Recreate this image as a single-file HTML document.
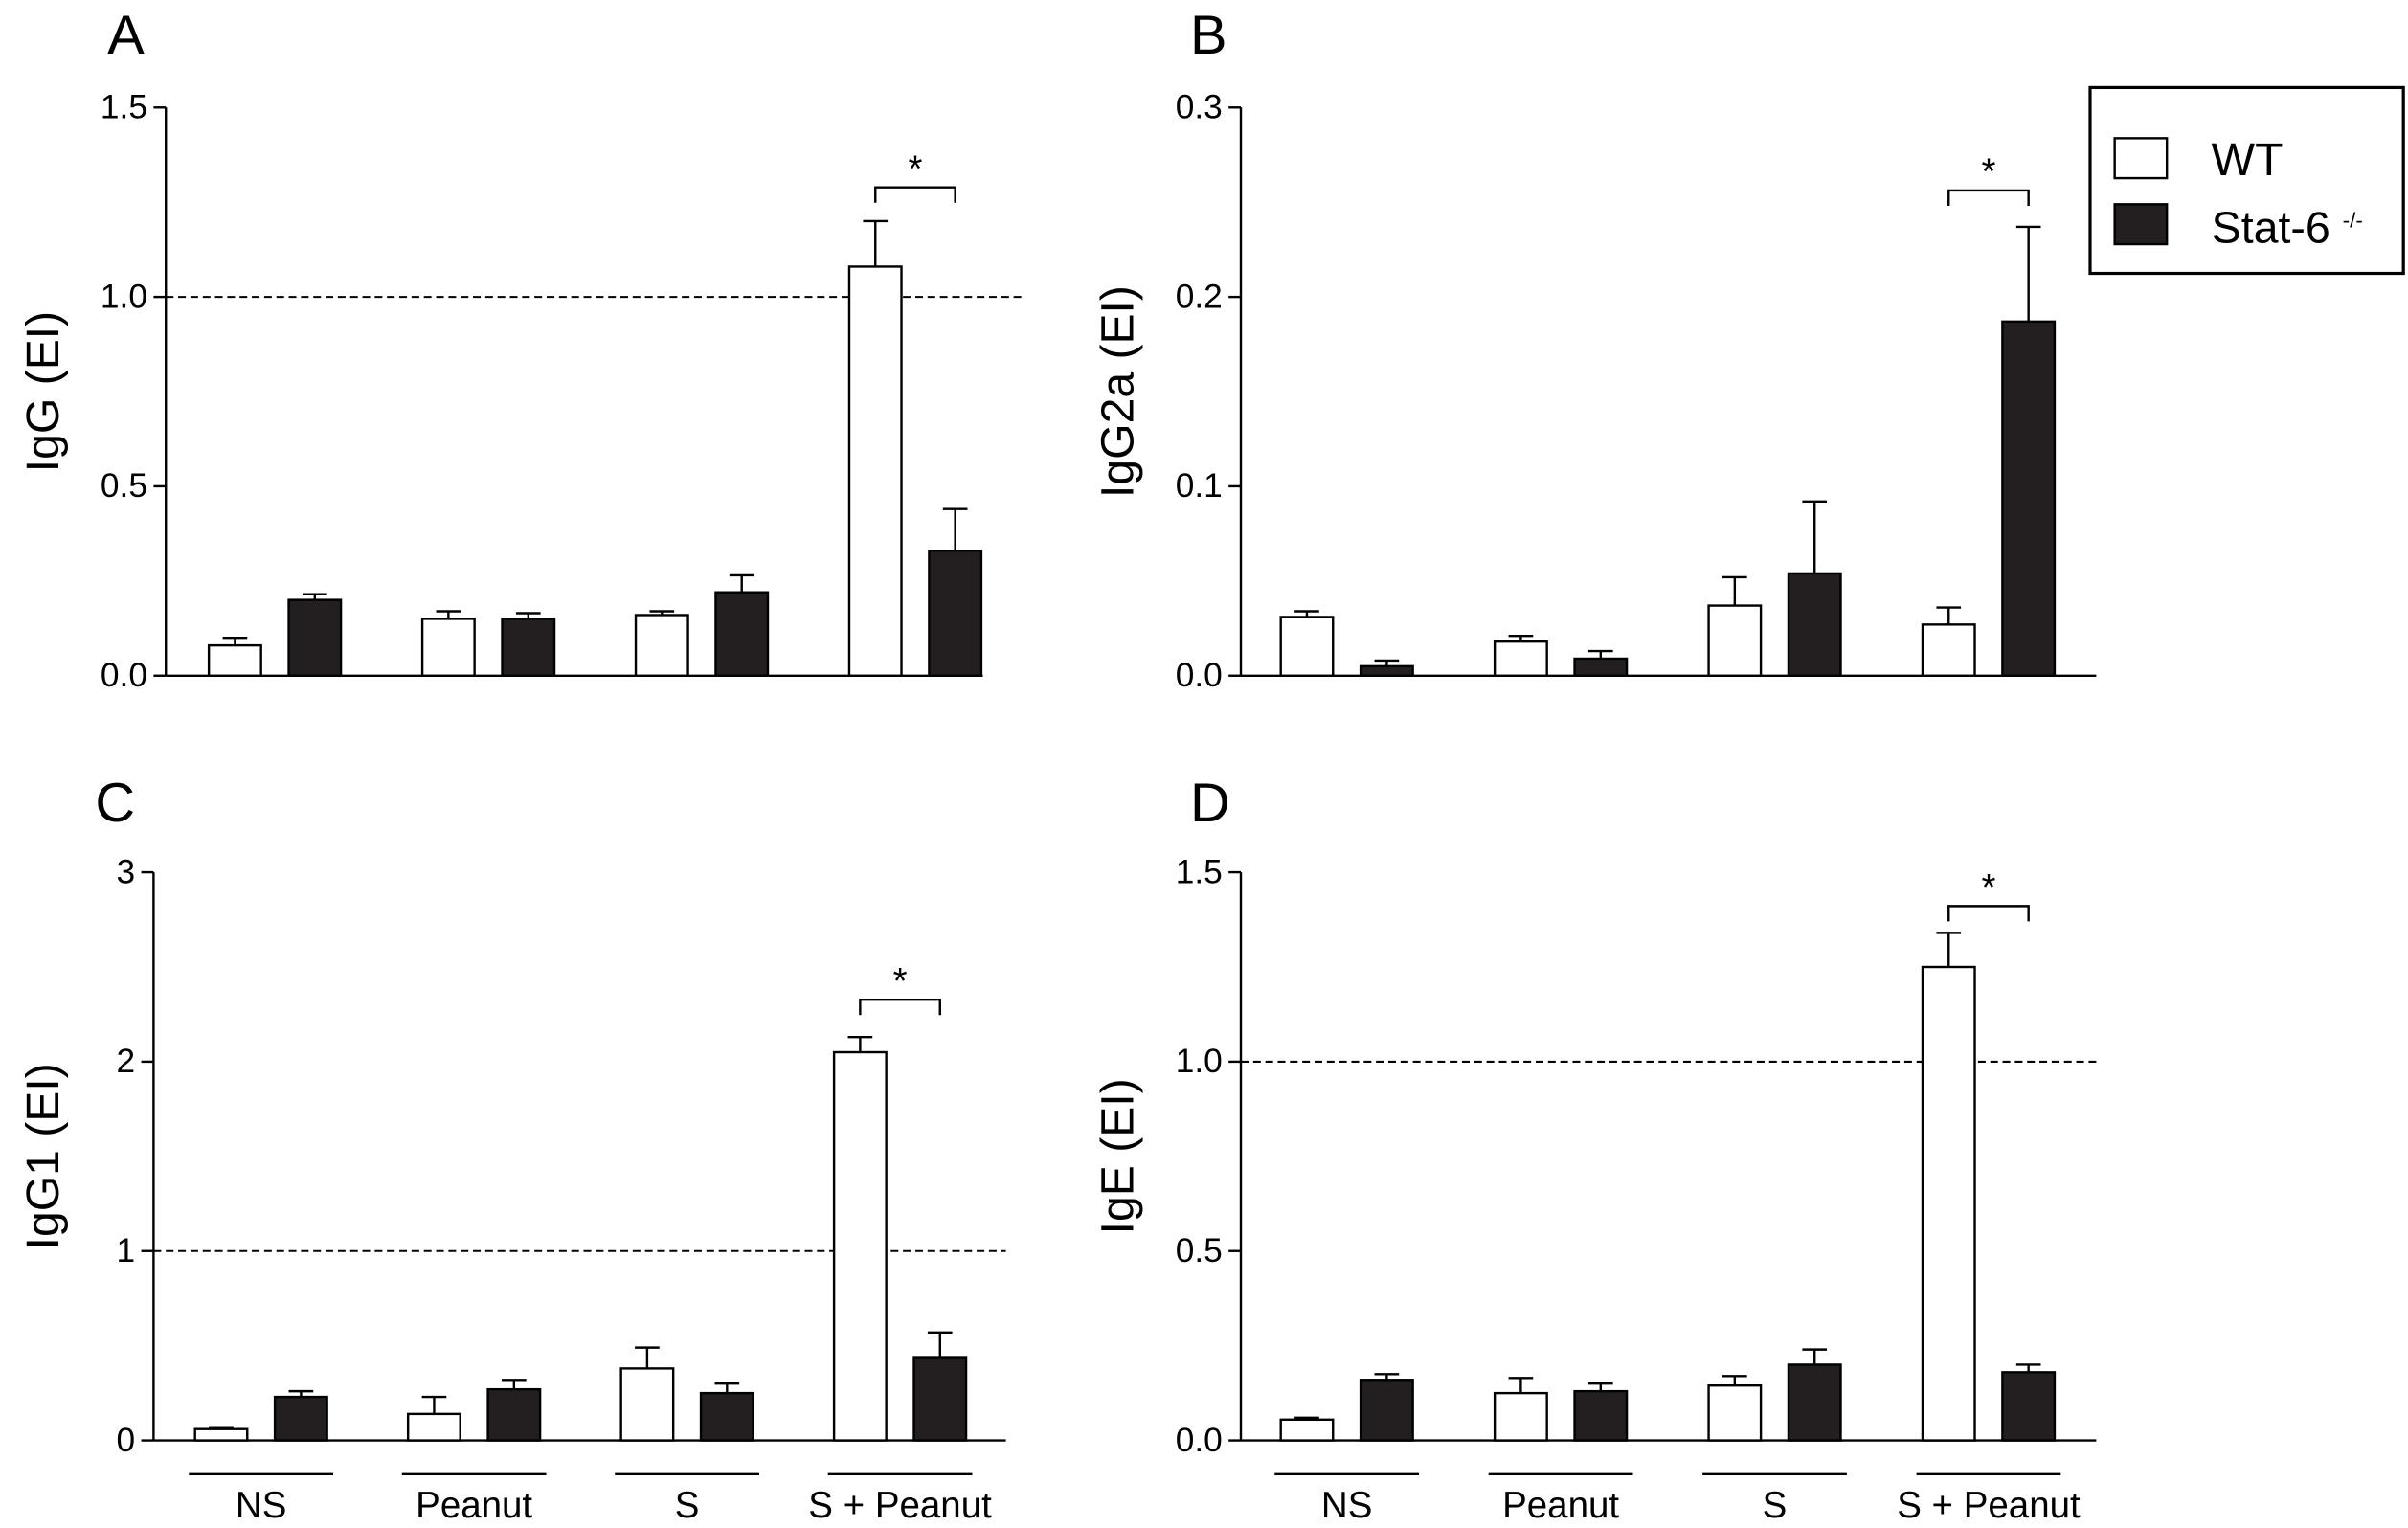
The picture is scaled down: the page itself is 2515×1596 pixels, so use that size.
<!DOCTYPE html>
<html><head><meta charset="utf-8"><style>
html,body{margin:0;padding:0;background:#fff;}
svg{display:block;font-family:"Liberation Sans",Arial,sans-serif;}
</style></head><body>
<svg id="fig" width="2515" height="1596" viewBox="0 0 1568 995" preserveAspectRatio="none" xmlns="http://www.w3.org/2000/svg"></svg>
<script>
const groups = ["NS","Peanut","S","S + Peanut"];
const aWT = [0.08,0.15,0.16,1.08], aWTe = [0.02,0.02,0.01,0.12];
const aKO = [0.20,0.15,0.22,0.33], aKOe = [0.015,0.015,0.045,0.11];
const bWT = [0.031,0.018,0.037,0.027], bWTe = [0.003,0.003,0.015,0.009];
const bKO = [0.005,0.009,0.054,0.187], bKOe = [0.003,0.004,0.038,0.05];
const cWT = [0.06,0.14,0.38,2.05], cWTe = [0.01,0.09,0.11,0.08];
const cKO = [0.23,0.27,0.25,0.44], cKOe = [0.03,0.05,0.05,0.13];
const dWT = [0.055,0.125,0.145,1.25], dWTe = [0.005,0.04,0.025,0.09];
const dKO = [0.16,0.13,0.20,0.18], dKOe = [0.015,0.02,0.04,0.02];
const aTicks = ["0.0","0.5","1.0","1.5"];
const bTicks = ["0.0","0.1","0.2","0.3"];
const cTicks = ["0","1","2","3"];
const dTicks = ["0.0","0.5","1.0","1.5"];

const svg = document.getElementById('fig');
const NS = "http://www.w3.org/2000/svg";
function mk(tag, attrs, parent){
  const e = document.createElementNS(NS, tag);
  for (const k in attrs) e.setAttribute(k, attrs[k]);
  (parent||svg).appendChild(e);
  return e;
}
function panel(cfg){
  const g = mk('g', {});
  
  
  const y = v => cfg.y0 - (v / cfg.max) * (cfg.y0 - cfg.yTop);
  const ax = cfg.ax;
  const yaxis = mk('line', {x1:ax,y1:cfg.yTop,x2:ax,y2:cfg.y0,stroke:'#000','stroke-width':1.5}, g);
  
  
  const xaxis = mk('line', {x1:ax,y1:cfg.y0,x2:cfg.xEnd,y2:cfg.y0,stroke:'#000','stroke-width':1.5}, g);
  
  
  cfg.ticks.forEach(t => {
    const v = parseFloat(t), yy = y(v);
    mk('line', {x1:ax-8,y1:yy,x2:ax,y2:yy,stroke:'#000','stroke-width':1.5}, g);
    const tx = mk('text', {x:ax-12,y:yy+7,'font-size':22,'text-anchor':'end'}, g);
    tx.textContent = t;
    
    
  });
  if (cfg.dash) {
    const d = mk('line', {x1:ax,y1:y(1),x2:cfg.dashEnd,y2:y(1),stroke:'#000','stroke-width':1.3,'stroke-dasharray':'5,3'}, g);
    
    
  }
  const bw = 34;
  groups.forEach((gr, i) => {
    const xs = [cfg.start + i*cfg.step, cfg.start + i*cfg.step + 52];
    [[cfg.wt, cfg.wte, '#fff', 'wt'], [cfg.ko, cfg.koe, '#231f20', 'stat6']].forEach((s, j) => {
      const v = s[0][i], e = s[1][i], x = xs[j];
      const top = y(v + e);
      mk('line', {x1:x+bw/2,y1:top,x2:x+bw/2,y2:y(v),stroke:'#000','stroke-width':1.5}, g);
      mk('line', {x1:x+bw/2-8,y1:top,x2:x+bw/2+8,y2:top,stroke:'#000','stroke-width':1.5}, g);
      const r = mk('rect', {x:x,y:y(v),width:bw,height:cfg.y0-y(v),fill:s[2],stroke:'#000','stroke-width':1.5}, g);
      
      
    });
  });
  const bx1 = cfg.start + 3*cfg.step + 17, bx2 = bx1 + 52;
  const by = cfg.brY;
  mk('path', {d:`M${bx1},${by+10} V${by} H${bx2} V${by+10}`,fill:'none',stroke:'#000','stroke-width':1.5}, g);
  const st = mk('text', {x:(bx1+bx2)/2,y:by-4,'font-size':24,'text-anchor':'middle'}, g);
  st.textContent = '*';
  
  
  const L = mk('text', {x:cfg.lx,y:cfg.ly,'font-size':36}, g);
  L.textContent = cfg.letter;
  
  
  const cy = (cfg.yTop + cfg.y0)/2;
  const T = mk('text', {x:0,y:0,'font-size':30,'text-anchor':'middle',transform:`translate(${cfg.tx},${cy}) rotate(-90)`}, g);
  T.textContent = cfg.title;
  
  
  if (cfg.labels) {
    groups.forEach((gr, i) => {
      const c = cfg.start + i*cfg.step + 43;
      mk('line', {x1:c-47,y1:960,x2:c+47,y2:960,stroke:'#000','stroke-width':1.5}, g);
      const t = mk('text', {x:c,y:988,'font-size':24,'text-anchor':'middle'}, g);
      t.textContent = gr;
      
      
    });
  }
}
panel({letter:'A',lx:70,ly:35,ax:108,y0:440,yTop:70,max:1.5,xEnd:640,dashEnd:665,ticks:aTicks,wt:aWT,wte:aWTe,ko:aKO,koe:aKOe,start:136,step:139,dash:true,brY:122,title:'IgG (EI)',tx:38});
panel({letter:'B',lx:775,ly:35,ax:808,y0:440,yTop:70,max:0.3,xEnd:1365,ticks:bTicks,wt:bWT,wte:bWTe,ko:bKO,koe:bKOe,start:834,step:139.3,dash:false,brY:124,title:'IgG2a (EI)',tx:738});
panel({letter:'C',lx:62,ly:535,ax:100,y0:938,yTop:568,max:3,xEnd:655,dashEnd:655,ticks:cTicks,wt:cWT,wte:cWTe,ko:cKO,koe:cKOe,start:127,step:138.7,dash:true,brY:651,title:'IgG1 (EI)',tx:38,labels:true});
panel({letter:'D',lx:775,ly:535,ax:808,y0:938,yTop:568,max:1.5,xEnd:1365,dashEnd:1365,ticks:dTicks,wt:dWT,wte:dWTe,ko:dKO,koe:dKOe,start:834,step:139.3,dash:true,brY:590,title:'IgE (EI)',tx:738,labels:true});

const lg = mk('g', {});


mk('rect', {x:1361,y:57,width:204,height:121,fill:'#fff',stroke:'#000','stroke-width':2}, lg);
const l1 = mk('rect', {x:1377,y:90,width:34,height:26,fill:'#fff',stroke:'#000','stroke-width':1.5}, lg);


const l2 = mk('rect', {x:1377,y:133,width:34,height:26,fill:'#231f20',stroke:'#000','stroke-width':1.5}, lg);


const t1 = mk('text', {x:1440,y:114,'font-size':30}, lg); t1.textContent = 'WT';
const t2 = mk('text', {x:1440,y:158,'font-size':29}, lg); t2.textContent = 'Stat-6 ';
const t3 = mk('tspan', {'font-size':14,dy:-10}, t2); t3.textContent = '-/-';
</script>
</body></html>
